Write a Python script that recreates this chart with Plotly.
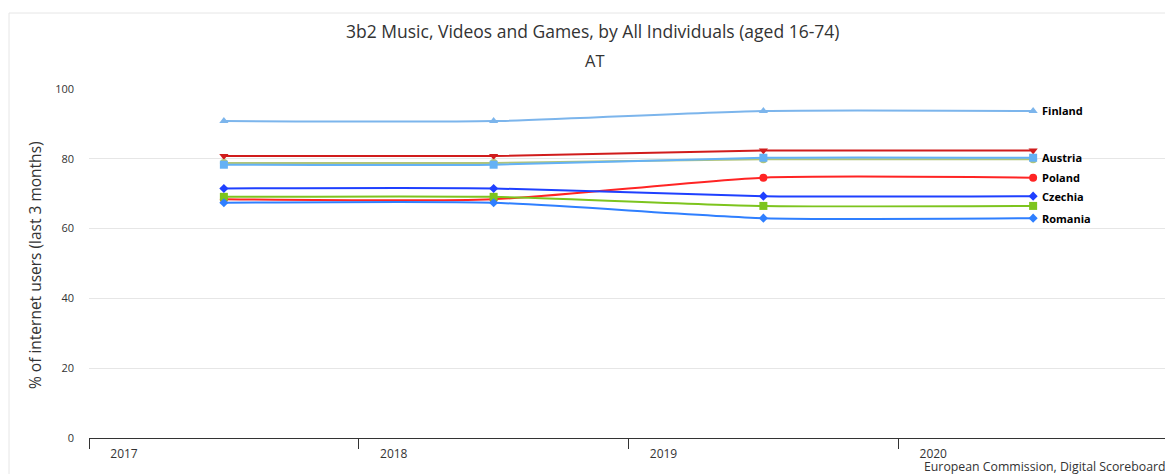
import plotly.graph_objects as go

years = ["2017", "2018", "2019", "2020"]
finland = [90.8, 90.8, 93.7, 93.7]
series_dark_red = [80.8, 80.8, 82.4, 82.4]
austria = [78.3, 78.3, 80.3, 80.3]
series_olive = [78.8, 78.8, 79.9, 79.9]
poland = [68.4, 68.4, 74.6, 74.6]
czechia = [71.5, 71.5, 69.3, 69.3]
series_green = [69.1, 69.1, 66.5, 66.5]
romania = [67.4, 67.4, 63.0, 63.0]

series = [
    # name, values, color, symbol, label shown
    ("Finland", finland, "#7cb5ec", "triangle-up", True),
    ("Series A", series_dark_red, "#d01c1c", "triangle-down", False),
    ("Series B", series_olive, "#b0c47a", "circle", False),
    ("Austria", austria, "#64b1f5", "square", True),
    ("Poland", poland, "#ff2424", "circle", True),
    ("Series C", series_green, "#7dc41e", "square", False),
    ("Czechia", czechia, "#1f40ff", "diamond", True),
    ("Romania", romania, "#2f7fff", "diamond", True),
]

PH = 349.0  # plot height in px
PW = 1079.0  # plot width in px

xs = list(range(len(years)))
fig = go.Figure()
annotations = []
for name, vals, color, sym, lab in series:
    fig.add_trace(go.Scatter(
        x=xs, y=vals, name=name, mode="lines+markers",
        line=dict(color=color, width=2, shape="spline", smoothing=0.6),
        marker=dict(symbol=sym, size=8 if sym != "diamond" else 7, color=color),
        showlegend=False,
    ))
    if lab:
        annotations.append(dict(
            x=xs[-1], y=vals[-1], xref="x", yref="y", text="<b>%s</b>" % name,
            showarrow=False, xanchor="left", yanchor="middle", xshift=7, yshift=0,
            font=dict(family="Open Sans", size=11, color="#000000"),
        ))

annotations += [
    dict(text="3b2 Music, Videos and Games, by All Individuals (aged 16-74)",
         x=(592 - 89) / PW, y=(438 - 31) / PH, xref="paper", yref="paper", showarrow=False,
         xanchor="center", yanchor="middle",
         font=dict(family="Open Sans", size=17.5, color="#333333")),
    dict(text="AT", x=(595 - 89) / PW, y=(438 - 61) / PH, xref="paper", yref="paper",
         showarrow=False, xanchor="center", yanchor="middle",
         font=dict(family="Open Sans", size=16.5, color="#333333")),
    dict(text="% of internet users (last 3 months)", x=(35 - 89) / PW, y=(438 - 265) / PH,
         xref="paper", yref="paper", showarrow=False, textangle=-90,
         xanchor="center", yanchor="middle",
         font=dict(family="Open Sans", size=15.5, color="#333333")),
    dict(text="European Commission, Digital Scoreboard", x=1, y=-(466 - 438) / PH,
         xref="paper", yref="paper", showarrow=False, xanchor="right", yanchor="middle",
         font=dict(family="Open Sans", size=12.3, color="#333333")),
]

fig.update_layout(
    width=1165, height=466,
    margin=dict(l=81, r=5, t=81, b=36),
    paper_bgcolor="white", plot_bgcolor="white",
    font=dict(family="Open Sans", color="#333333"),
    annotations=annotations,
    shapes=[
        dict(type="line", xref="paper", yref="paper", x0=(9 - 89) / PW, x1=1, y0=(438 - 13) / PH, y1=(438 - 13) / PH,
             line=dict(color="#e6e6e6", width=1)),
        dict(type="line", xref="paper", yref="paper", x0=(9 - 89) / PW, x1=(9 - 89) / PW, y0=(438 - 13) / PH, y1=-36 / PH,
             line=dict(color="#e6e6e6", width=1)),
    ],
)
fig.update_xaxes(
    range=[-0.5, 3.5], tickvals=[-0.5, 0.5, 1.5, 2.5, 3.5], ticktext=years + [""],
    showgrid=False, zeroline=False, showline=True, linecolor="#333333", linewidth=1,
    ticks="outside", ticklen=10, tickcolor="#333333", ticklabelshift=35,
    ticklabelstandoff=-5,
    tickfont=dict(family="Open Sans", size=12, color="#333333"),
)
fig.update_yaxes(
    range=[0, 100], tickvals=[0, 20, 40, 60, 80, 100],
    showgrid=True, gridcolor="#e6e6e6", zeroline=False, showline=False,
    ticks="", ticklabelstandoff=14,
    tickfont=dict(family="Open Sans", size=11, color="#333333"),
)

fig.write_html("out.html")
